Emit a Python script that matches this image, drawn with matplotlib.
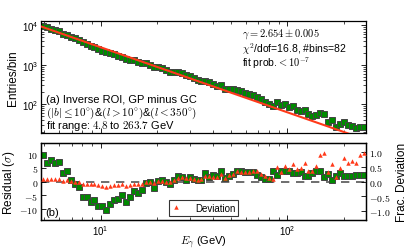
import numpy as np
import matplotlib
matplotlib.use("Agg")
import matplotlib.pyplot as plt
from matplotlib.ticker import FixedLocator, FuncFormatter, LogLocator, NullFormatter

plt.rcParams['font.family'] = ['Liberation Sans', 'DejaVu Sans']
plt.rcParams['mathtext.fontset'] = 'cm'

# bin centres (GeV), 82 log bins between 4.8 and 263.7
energy = [4.92, 5.17, 5.42, 5.70, 5.98, 6.28, 6.60, 6.93, 7.27, 7.64,
          8.02, 8.42, 8.84, 9.28, 9.75, 10.24, 10.75, 11.29, 11.85, 12.45,
          13.07, 13.72, 14.41, 15.13, 15.89, 16.69, 17.52, 18.40, 19.32, 20.29,
          21.30, 22.37, 23.49, 24.66, 25.90, 27.19, 28.55, 29.98, 31.48, 33.06,
          34.71, 36.46, 38.28, 40.20, 42.21, 44.32, 46.54, 48.87, 51.32, 53.89,
          56.58, 59.41, 62.38, 65.51, 68.79, 72.23, 75.84, 79.64, 83.63, 87.81,
          92.21, 96.86, 101.7, 106.8, 112.1, 117.8, 123.6, 129.8, 136.3, 143.2,
          150.3, 157.8, 165.7, 174.0, 182.8, 191.9, 201.5, 211.6, 222.2, 233.3,
          245.0, 257.3]

# entries per bin
counts = [9950, 8930, 8310, 7600, 7080, 6230, 5800, 5190, 4700, 4250,
          3750, 3430, 3090, 2850, 2540, 2310, 2060, 1970, 1860, 1710,
          1620, 1410, 1350, 1310, 1190, 1115, 1085, 1000, 904, 877,
          826, 740, 668, 666, 644, 616, 548, 514, 457, 410,
          382, 389, 359, 323, 298, 300, 244, 250, 238, 231,
          210, 194, 179, 167, 154, 135, 116, 100, 90, 114,
          94, 99, 86, 88, 72, 69, 71, 55, 51, 53,
          60, 57, 36, 39, 26, 31, 35, 29, 28, 25,
          26, 26]

# residuals in sigma
residual = [9.6, 6.6, 7.7, 6.9, 7.1, 3.0, 3.9, 0.4, -0.8, -2.0,
            -5.7, -5.7, -7.6, -6.9, -8.9, -8.9, -10.2, -8.0, -6.8, -6.2,
            -5.0, -7.4, -5.7, -3.4, -4.1, -3.2, -0.6, -0.2, -2.4, 0.1,
            0.4, 0.0, -0.8, 0.7, 2.1, 1.8, 0.7, 1.8, 1.0, 0.7,
            0.7, 3.0, 1.8, 2.4, 2.1, 3.7, 1.2, 2.1, 2.6, 3.8,
            3.8, 3.5, 3.3, 3.3, 2.5, 1.8, 1.0, 1.0, 3.9, 2.5,
            3.9, 3.7, 3.9, 3.0, 3.0, 3.3, 2.1, 2.1, 3.0, 3.9,
            3.9, 1.6, 2.7, 0.7, 2.1, 3.0, 2.1, 2.1, 1.9, 2.5,
            2.5, 2.5]

# fractional deviation
frac_dev = [0.10, 0.07, 0.08, 0.07, 0.08, 0.03, 0.04, 0.01, -0.01, -0.03,
            -0.07, -0.08, -0.10, -0.10, -0.13, -0.14, -0.17, -0.14, -0.12, -0.12,
            -0.10, -0.15, -0.12, -0.07, -0.09, -0.07, -0.02, -0.02, -0.04, 0.01,
            0.03, 0.00, -0.02, 0.06, 0.11, 0.15, 0.11, 0.13, 0.09, 0.06,
            0.07, 0.18, 0.18, 0.15, 0.15, 0.26, 0.11, 0.23, 0.27, 0.34,
            0.32, 0.32, 0.32, 0.34, 0.34, 0.27, 0.18, 0.11, 0.08, 0.48,
            0.33, 0.52, 0.43, 0.59, 0.41, 0.45, 0.62, 0.36, 0.36, 0.54,
            0.90, 0.95, 0.32, 0.59, 0.15, 0.45, 0.79, 0.63, 0.68, 0.63,
            0.88, 0.97]

# power-law fit
gamma = 2.654
norm = 1.264e5
fit_lo, fit_hi = 4.8, 263.7

red = '#ff3a1a'
green = '#008a00'

fig = plt.figure(figsize=(4.07, 2.51), dpi=100)
ax1 = fig.add_axes([0.1007, 0.4661, 0.7985, 0.4463])
ax2 = fig.add_axes([0.1007, 0.1195, 0.7985, 0.3068])

## top panel
e_line = np.geomspace(fit_lo, fit_hi, 200)
ax1.plot(energy, counts, 's', color=green, mec='#444444', mew=0.7, ms=5, zorder=2)
ax1.plot(e_line, norm * e_line**(1 - gamma), color=red, lw=1.5, zorder=3)
ax1.set_xscale('log')
ax1.set_yscale('log')
ax1.set_xlim(fit_lo, fit_hi)
ax1.set_ylim(18.5, 1.3e4)
ax1.set_ylabel('Entries/bin', fontsize=8.5, labelpad=2)
ax1.xaxis.set_major_formatter(NullFormatter())
ax1.xaxis.set_minor_formatter(NullFormatter())
ax1.yaxis.set_minor_locator(LogLocator(subs=np.arange(2, 10)))
ax1.yaxis.set_minor_formatter(NullFormatter())

ax1.text(0.62, 0.893, r'$\gamma = 2.654 \pm 0.005$', transform=ax1.transAxes,
         fontsize=7.5, va='center')
ax1.text(0.62, 0.755, r'$\chi^2$/dof=16.8, #bins=82', transform=ax1.transAxes,
         fontsize=7.5, va='center')
ax1.text(0.62, 0.628, r'fit prob.$< 10^{-7}$', transform=ax1.transAxes,
         fontsize=7.5, va='center')
ax1.text(0.015, 0.304, '(a) Inverse ROI, GP minus GC', transform=ax1.transAxes,
         fontsize=8, va='center')
ax1.text(0.015, 0.188,
         r'$(|b|\leq10^{\circ})$&$(l>10^{\circ})$&$(l<350^{\circ})$',
         transform=ax1.transAxes, fontsize=8, va='center')
ax1.text(0.015, 0.071, r'fit range: $4.8$ to $263.7$ GeV', transform=ax1.transAxes,
         fontsize=8, va='center')

## bottom panel
ax2.plot(energy, residual, 's', color=green, mec='#444444', mew=0.7, ms=5, zorder=2)
ax2.axhline(0, color='#555555', ls=(0, (5, 4)), lw=1.2, zorder=1)
ax2.set_xscale('log')
ax2.set_xlim(fit_lo, fit_hi)
ax2.set_ylim(-14, 14)
ax2.yaxis.set_major_locator(FixedLocator([-10, -5, 0, 5, 10]))
ax2.yaxis.set_major_formatter(FuncFormatter(lambda v, p: r'$%d$' % v))
ax2.set_ylabel(r'Residual ($\sigma$)', fontsize=8.5, labelpad=2)
ax2.set_xlabel(r'$E_\gamma$ (GeV)', fontsize=8, labelpad=-2.5)
ax2.text(0.012, 0.1, '(b)', transform=ax2.transAxes, fontsize=8, va='center')

ax3 = ax2.twinx()
ax3.plot(energy, frac_dev, '^', color=red, ms=3.2, mew=0, label='Deviation', zorder=3)
ax3.set_ylim(-1.3, 1.3)
ax3.yaxis.set_major_locator(FixedLocator([-1.0, -0.5, 0.0, 0.5, 1.0]))
ax3.yaxis.set_major_formatter(FuncFormatter(lambda v, p: r'$%.1f$' % v))
ax3.set_ylabel('Frac. Deviation', fontsize=8.5, labelpad=4)
leg = ax3.legend(loc='lower center', fontsize=7, fancybox=False, frameon=True,
                 handlelength=0.8, borderpad=0.3, bbox_to_anchor=(0.5, 0.03),
                 markerscale=1.0, handletextpad=1.6, borderaxespad=0.2)
leg.get_frame().set_edgecolor('black')
leg.get_frame().set_linewidth(0.8)

for ax in (ax1, ax2, ax3):
    ax.tick_params(which='both', direction='in', labelsize=7, pad=2)
    ax.tick_params(which='major', length=3.5, width=0.6)
    ax.tick_params(which='minor', length=2, width=0.5)
    for s in ax.spines.values():
        s.set_linewidth(0.9)
ax1.tick_params(which='both', top=True, right=True)
ax2.tick_params(which='both', top=True)
ax2.xaxis.set_minor_formatter(NullFormatter())

fig.savefig('out.png', dpi=100)
